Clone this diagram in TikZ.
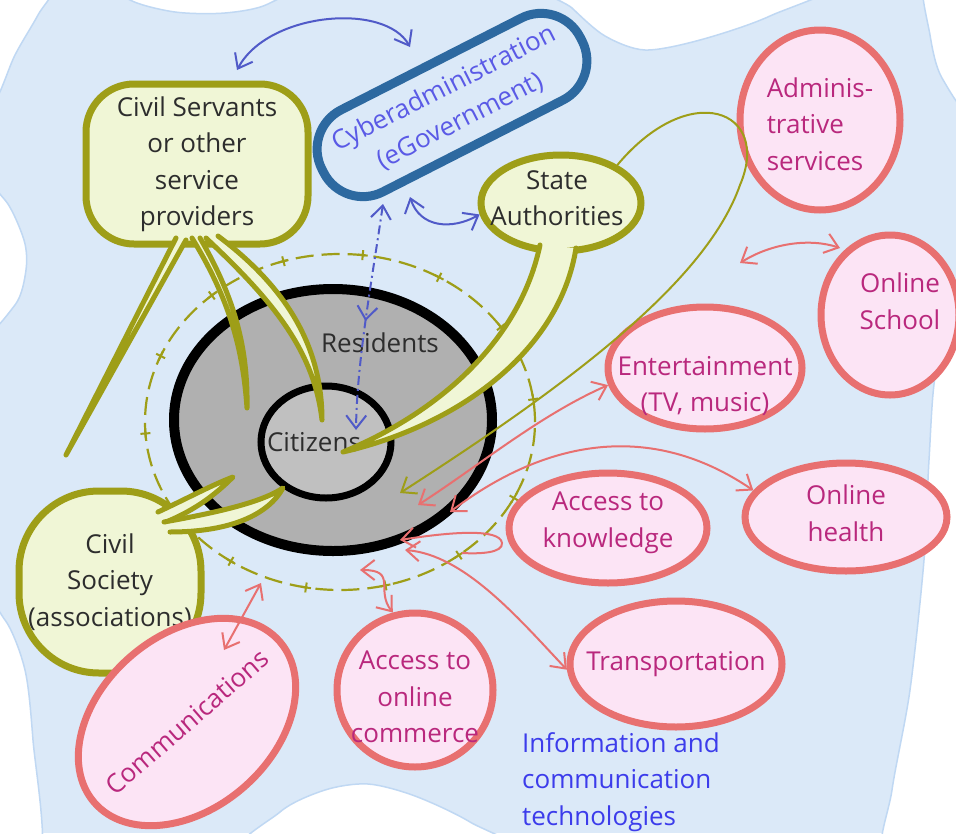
\documentclass[tikz,border=0pt]{standalone}
\usepackage{fontspec}
\setmainfont{Open Sans}
\usetikzlibrary{shapes.geometric,arrows.meta,decorations.markings,positioning}

\definecolor{bgblue}{RGB}{219,233,248}
\definecolor{bgedge}{RGB}{192,216,243}
\definecolor{bubolive}{RGB}{158,158,24}
\definecolor{bubfill}{RGB}{240,246,214}
\definecolor{cyberblue}{RGB}{45,105,160}
\definecolor{cybertext}{RGB}{90,90,230}
\definecolor{arrowblue}{RGB}{80,90,200}
\definecolor{pinkline}{RGB}{232,112,112}
\definecolor{pinkfill}{RGB}{252,228,245}
\definecolor{magtext}{RGB}{185,40,125}
\definecolor{darktext}{RGB}{45,45,45}
\definecolor{resgray}{RGB}{176,176,176}
\definecolor{citgray}{RGB}{192,192,192}
\definecolor{ictblue}{RGB}{60,60,235}

\newcommand{\mapfont}{\fontsize{26}{36.5}\selectfont}

\tikzset{
  vtip/.tip={Straight Barb[length=13pt,width=20pt]},
  gap/.style={fill=white, draw=bgedge, line width=1.5pt},
  ring/.style={draw=bubolive, line width=2.2pt, dash pattern=on 18pt off 8pt,
    postaction={decorate, decoration={markings,
      mark=between positions 0.02 and 1 step 0.07 with
      {\draw[solid, draw=bubolive, line width=2pt] (-5,0) -- (5,0) (0,-5) -- (0,5);}}}},
  bubble/.style={draw=bubolive, fill=bubfill, line width=7pt, text=darktext, align=center, inner sep=2pt},
  tail/.style={draw=bubolive, fill=bubfill, line width=5pt, line join=round, line cap=round},
  ict/.style={ellipse, draw=pinkline, fill=pinkfill, line width=7pt, inner sep=0pt},
  icttext/.style={text=magtext, align=center},
  pinkarr/.style={draw=pinkline, line width=2pt, arrows={vtip-vtip}},
  bluearr/.style={draw=arrowblue, line width=2pt, arrows={vtip-vtip}}
}

\begin{document}
\begin{tikzpicture}[x=1pt, y=-1pt, font=\mapfont]
    \useasboundingbox (0,0) rectangle (956,833);

    % light blue cloud
    \fill[bgblue] (0,0) rectangle (956,833);
    \begin{scope}
    \clip (0,0) rectangle (956,833);
    \filldraw[gap] plot[smooth cycle] coordinates {(-20,-20) (55,-20) (38,15) (15,55) (-5,100) (-20,80)};
    \filldraw[gap] plot[smooth cycle] coordinates {(105,-25) (130,0) (175,12) (225,13) (268,4) (300,-25)};
    \filldraw[gap] plot[smooth cycle] coordinates {(540,-25) (572,8) (605,36) (645,50) (700,40) (770,16) (840,-25)};
    \filldraw[gap] plot[smooth cycle] coordinates {(925,-25) (930,35) (942,78) (975,112) (985,-25)};
    \filldraw[gap] plot[smooth cycle] coordinates {(-25,185) (5,200) (24,240) (26,270) (15,305) (-25,335)};
    \filldraw[gap] plot[smooth cycle] coordinates {(-25,605) (5,620) (25,670) (33,740) (40,860) (-25,860)};
    \filldraw[gap] plot[smooth cycle] coordinates {(245,860) (280,812) (325,790) (368,784) (415,796) (470,822) (520,860)};
    \filldraw[gap] plot[smooth cycle] coordinates {(985,330) (958,338) (936,372) (929,460) (924,560) (910,690) (892,790) (886,860) (985,860)};
    \end{scope}

    % dashed ring
    \draw[ring] (340,422) ellipse [x radius=195pt, y radius=168pt];

    % residents and citizens
    \node[ellipse, draw=black, line width=10pt, fill=resgray, minimum width=318pt, minimum height=262pt, inner sep=0pt] (res) at (333,420) {};
    \node[ellipse, draw=black, line width=7pt, fill=citgray, minimum width=130pt, minimum height=112pt, inner sep=0pt,
        label={[text=darktext, xshift=-12pt]center:Citizens}] (cit) at (326,442) {};
    \node[text=darktext] (resname) at (380,343) {Residents};

    % speech bubbles
    \node[bubble, rectangle, rounded corners=48pt, minimum width=222pt, minimum height=160pt] (serv) at (197,164) {Civil Servants\\or other\\service\\providers};
    \node[bubble, ellipse, minimum width=160pt, minimum height=96pt, inner sep=0pt,
        label={[text=darktext, align=center, xshift=-4pt, yshift=5pt]center:{State\\Authorities}}] (state) at (561,203) {};
    \node[bubble, rectangle, rounded corners=80pt, minimum width=182pt, minimum height=182pt, inner sep=0pt] (soc) at (110,582) {Civil\\Society\\(associations)};

    % tails
    \draw[tail] (176,238) -- (66,455) -- (186,240);
    \draw[tail] (192,238) .. controls (230,300) and (243,350) .. (247,408) .. controls (248,350) and (236,300) .. (200,238);
    \draw[tail] (206,238) .. controls (272,300) and (314,350) .. (322,420) .. controls (322,350) and (290,290) .. (218,236);
    \draw[tail] (540,245) .. controls (520,340) and (440,412) .. (343,452) .. controls (460,425) and (560,350) .. (576,248);
    \draw[tail] (158,512) .. controls (190,497) and (212,485) .. (233,477) .. controls (215,495) and (195,510) .. (166,522);
    \draw[tail] (164,522) .. controls (220,512) and (262,502) .. (283,488) .. controls (268,515) and (230,532) .. (170,532);

    % cyberadministration
    \node[draw=cyberblue, line width=9pt, rounded corners=44pt, minimum width=290pt, minimum height=92pt,
        rotate=27, text=cybertext, align=center] (cyber) at (452,105) {Cyberadministration\\(eGovernment)};

    % ICT services
    \node[ict, minimum width=160pt, minimum height=180pt,
        label={[icttext, align=left, yshift=-4pt]center:{Adminis-\\trative\\services}}] (adm) at (820,120) {};
    \node[ict, minimum width=138pt, minimum height=160pt,
        label={[icttext, xshift=10pt, yshift=14pt]center:{Online\\School}}] (school) at (890,315) {};
    \node[ict, minimum width=194pt, minimum height=122pt,
        label={[icttext, yshift=-18pt]center:{Entertainment\\(TV, music)}}] (ent) at (705,368) {};
    \node[ict, minimum width=198pt, minimum height=110pt,
        label={[icttext, yshift=5pt]center:{Access to\\knowledge}}] (know) at (608,528) {};
    \node[ict, minimum width=202pt, minimum height=108pt,
        label={[icttext, yshift=4pt]center:{Online\\health}}] (health) at (846,517) {};
    \node[ict, minimum width=212pt, minimum height=126pt,
        label={[icttext]center:Transportation}] (trans) at (676,664) {};
    \node[ict, minimum width=156pt, minimum height=154pt,
        label={[icttext, yshift=-7pt]center:{Access to\\online\\commerce}}] (comm) at (415,690) {};
    \node[ict, text=magtext, rotate=41, minimum width=243pt, minimum height=173pt, inner xsep=-16pt] (cmm) at (187,722) {Communications};

    \node[text=ictblue, align=left, anchor=west, inner sep=0pt] (ictname) at (522,782) {Information and\\communication\\technologies};

    % blue links
    \coordinate (servTop) at (237,70);
    \coordinate (cyberTop) at (410,47);
    \coordinate (cyberBot) at (410,197);
    \coordinate (cyberLow) at (383,204);
    \coordinate (citTop) at (356,430);
    \draw[bluearr] (servTop) .. controls (268,12) and (385,2) .. (cyberTop);
    \draw[bluearr] (cyberBot) .. controls (420,228) and (452,230) .. (state.188);
    \draw[bluearr, dash pattern=on 9pt off 4pt on 2pt off 4pt,
        postaction={decorate, decoration={markings, mark=at position 0.52 with {\arrow[color=arrowblue]{vtip}}}}]
        (cyberLow) .. controls (372,280) and (357,360) .. (citTop);

    % olive link
    \coordinate (resTip) at (400,493);
    \draw[draw=bubolive, line width=2pt, -{vtip}] (state.34) .. controls (690,78) and (772,110) .. (740,185) .. controls (705,285) and (560,390) .. (resTip);

    % pink links
    \coordinate (resA) at (418,505);
    \coordinate (resB) at (450,512);
    \coordinate (resC) at (400,540);
    \coordinate (resD) at (405,550);
    \coordinate (ringS) at (360,570);
    \coordinate (ringSW) at (261,583);
    \coordinate (cmmTip) at (224,650);
    \coordinate (admTip) at (740,263);
    \coordinate (schTip) at (840,248);
    \draw[pinkarr] (resA) .. controls (480,465) and (540,415) .. (ent.190);
    \draw[pinkarr] (resB) .. controls (545,440) and (650,420) .. (health.164);
    \draw[pinkarr, arrows={vtip-}] (resC) .. controls (450,532) and (500,528) .. (502,543) .. controls (503,553) and (480,554) .. (462,553);
    \draw[pinkarr] (resD) .. controls (465,555) and (520,620) .. (trans.183);
    \draw[pinkarr] (ringS) .. controls (398,570) and (375,590) .. (comm.106);
    \draw[pinkarr] (ringSW) -- (cmmTip);
    \draw[pinkarr] (admTip) .. controls (772,243) and (810,238) .. (schTip);
\end{tikzpicture}
\end{document}
